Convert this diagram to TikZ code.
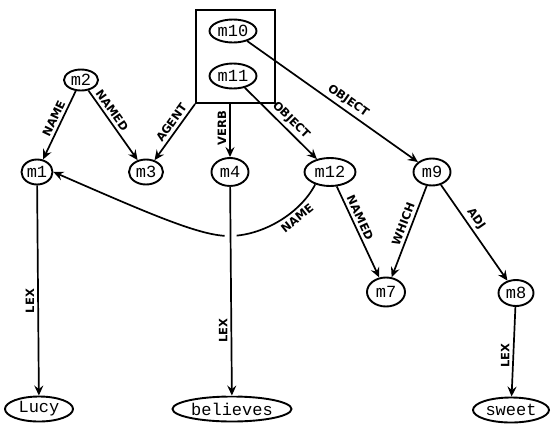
\documentclass[tikz,border=0pt]{standalone}
\usepackage{fontspec}
\usetikzlibrary{shapes.geometric,arrows.meta,calc}
\newfontfamily\nodefont{Liberation Mono}
\newfontfamily\labfont{DejaVu Sans}
\begin{document}
\begin{tikzpicture}[x=1pt,y=-1pt,
  nd/.style={ellipse,draw,line width=1.9pt,inner sep=0.5pt,minimum height=25pt,
    font=\nodefont\fontsize{17}{17}\selectfont},
  ln/.style={line width=1.7pt,-{Stealth[length=10pt,width=9pt,inset=3.5pt]}},
  lab/.style={font=\labfont\bfseries\fontsize{11.5}{11.5}\selectfont,inner sep=3pt},
  sl/.style={lab,sloped,above},
  slb/.style={lab,sloped,below},
  vl/.style={lab,rotate=90,anchor=south}]
\useasboundingbox[fill=white] (0,0) rectangle (551,426);

% box with m10, m11
\node[draw,line width=1.9pt,rectangle,minimum width=79pt,minimum height=93pt,inner sep=0pt] (box) at (235.5,56.5) {};
\node[nd,minimum width=47pt,minimum height=23pt] (m10) at (233,31) {m10};
\node[nd,minimum width=47pt] (m11) at (233,76) {m11};

\node[nd,minimum width=34pt,minimum height=21pt] (m2) at (81,80) {m2};
\node[nd,minimum width=31pt] (m1) at (37,172) {m1};
\node[nd,minimum width=34pt] (m3) at (146,172) {m3};
\node[nd,minimum width=37pt,minimum height=28pt] (m4) at (230,172) {m4};
\node[nd,minimum width=51pt,minimum height=28pt] (m12) at (330,172) {m12};
\node[nd,minimum width=37pt,minimum height=27pt] (m9) at (432,172) {m9};
\node[nd,minimum width=38pt,minimum height=29pt] (m7) at (386,292) {m7};
\node[nd,minimum width=35pt,minimum height=26pt] (m8) at (516,293) {m8};
\node[nd,minimum width=68pt] (lucy) at (39,409) {Lucy};
\node[nd,minimum width=119pt] (believes) at (232,409) {believes};
\node[nd,minimum width=76pt] (sweet) at (511,410) {sweet};

% edges
\draw[ln] (m2) -- (m1) node[sl,pos=.45] {NAME};
\draw[ln] (m2) -- (m3) node[sl,pos=.35] {NAMED};
\draw[ln] (box.south west) -- (m3) node[sl,pos=.42] {AGENT};
\draw[ln] (box.south -| m4) -- (m4) node[vl,pos=.46] {VERB};
\draw[ln] (m11) -- (m12) node[sl,pos=.55] {OBJECT};
\draw[ln] (m10) -- (m9) node[sl,pos=.56] {OBJECT};
\draw[ln] (m12.220) .. controls (300,214) and (262,236) .. (229,236)
   node[slb,pos=.35] {NAME}
   .. controls (200,236) and (150,214) .. (m1.east);
\draw[ln] (m12) -- (m7) node[sl,pos=.38] {NAMED};
\draw[ln] (m9) -- (m7) node[sl,pos=.45] {WHICH};
\draw[ln] (m9) -- (m8) node[sl,pos=.41] {ADJ};
\draw[ln] (m1) -- (lucy) node[vl,pos=.55] {LEX};
\draw[ln,preaction={draw,white,line width=12pt,-}] (m4) -- (believes) node[vl,pos=.69] {LEX};
\draw[ln] (m8) -- (sweet) node[vl,pos=.54] {LEX};
\end{tikzpicture}
\end{document}
